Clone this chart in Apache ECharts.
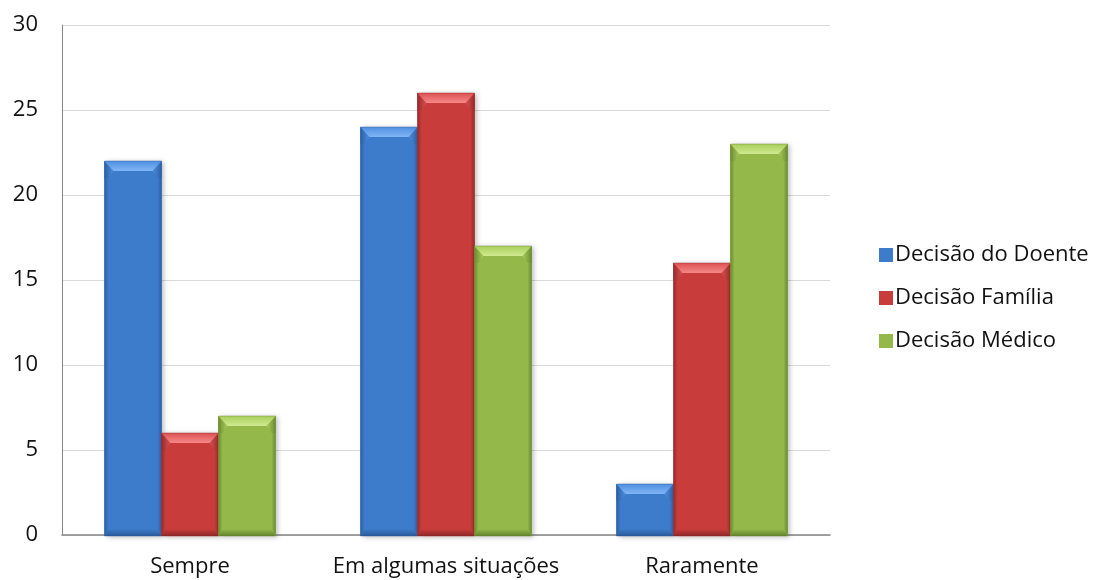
<!DOCTYPE html>
<html>
<head>
<meta charset="utf-8">
<script src="https://cdn.jsdelivr.net/npm/echarts@6/dist/echarts.min.js"></script>
<style>
  html, body { margin: 0; padding: 0; background: #fff; }
  #chart { width: 1101px; height: 580px; }
</style>
</head>
<body>
<div id="chart"></div>
<script>
// Categories and values per decision maker
const categories = ['Sempre', 'Em algumas situações', 'Raramente'];
const seriesNames = ['Decisão do Doente', 'Decisão Família', 'Decisão Médico'];
const doente = [22, 24, 3];
const familia = [6, 26, 16];
const medico = [7, 17, 23];
const yTicks = { min: 0, max: 30, interval: 5 };

// Tones used for the bevelled bars of each series
const palette = [
  { light: '#80b6f7', top: '#4f8fe0', base: '#3d7bcb', edge: '#2b5fa3', bottom: '#2a5a98' },
  { light: '#f68888', top: '#dc5252', base: '#c93c3c', edge: '#962a2a', bottom: '#8c2727' },
  { light: '#d0ea90', top: '#aacd5d', base: '#94b94a', edge: '#6b8b30', bottom: '#63812c' }
];

const values = [doente, familia, medico];
const font = "'Open Sans', 'Liberation Sans', sans-serif";
const BAR_W = 57;

function lin(x, y, x2, y2, c0, c1) {
  return { type: 'linear', x: x, y: y, x2: x2, y2: y2,
    colorStops: [{ offset: 0, color: c0 }, { offset: 1, color: c1 }] };
}

// Draws one bevelled bar from the category/value coordinates of the axes
function bevelBar(params, api) {
  const si = params.seriesIndex;
  const p = palette[si];
  const ci = api.value(0);
  const v = api.value(1);
  const base = api.coord([ci, 0]);
  const top = api.coord([ci, v]);
  const n = values.length;
  const x = base[0] - BAR_W * n / 2 + si * BAR_W;
  const y = top[1];
  const w = BAR_W;
  const h = base[1] - top[1] + 1;
  const bt = Math.min(10, h / 2);
  const bb = Math.min(7, h / 2);
  const bs = 9;
  const ss = 4;

  return {
    type: 'group',
    children: [
      { type: 'rect', shape: { x: x, y: y, width: w, height: h },
        style: { fill: p.base, shadowBlur: 5, shadowOffsetX: 2, shadowOffsetY: 1,
                 shadowColor: 'rgba(0,0,0,0.28)' } },
      { type: 'polygon',
        shape: { points: [[x, y], [x + ss, y + bt], [x + ss, y + h - bb], [x, y + h]] },
        style: { fill: lin(0, 0, 1, 0, p.edge, p.base) } },
      { type: 'polygon',
        shape: { points: [[x + w, y], [x + w - ss, y + bt], [x + w - ss, y + h - bb], [x + w, y + h]] },
        style: { fill: lin(1, 0, 0, 0, p.edge, p.base) } },
      { type: 'polygon',
        shape: { points: [[x, y + h], [x + ss, y + h - bb], [x + w - ss, y + h - bb], [x + w, y + h]] },
        style: { fill: lin(0, 1, 0, 0, p.bottom, p.base) } },
      { type: 'polygon',
        shape: { points: [[x, y], [x + bs, y + bt], [x + ss, y + bt + 7], [x, y + bt + 7]] },
        style: { fill: lin(0, 0, 1, 0, p.edge, p.top), opacity: 0.9 } },
      { type: 'polygon',
        shape: { points: [[x + w, y], [x + w - bs, y + bt], [x + w - ss, y + bt + 7], [x + w, y + bt + 7]] },
        style: { fill: lin(1, 0, 0, 0, p.edge, p.top), opacity: 0.9 } },
      { type: 'polygon',
        shape: { points: [[x, y], [x + w, y], [x + w - bs, y + bt], [x + bs, y + bt]] },
        style: { fill: lin(0, 0, 0, 1, p.top, p.light) } },
      { type: 'rect', shape: { x: x, y: y, width: w, height: h },
        style: { fill: 'none', stroke: p.edge, lineWidth: 0.6, opacity: 0.7 } }
    ]
  };
}

const chart = echarts.init(document.getElementById('chart'));
chart.setOption({
  animation: false,
  backgroundColor: '#ffffff',
  grid: { left: 62, right: 271, top: 25, bottom: 45, containLabel: false },
  legend: {
    orient: 'vertical',
    left: 874,
    top: 239,
    itemWidth: 14,
    itemHeight: 14,
    itemGap: 21,
    icon: 'rect',
    textStyle: { fontFamily: font, fontSize: 22, lineHeight: 22, color: '#111', padding: [0, 0, 0, -3] },
    data: seriesNames
  },
  xAxis: {
    type: 'category',
    data: categories,
    axisLine: { lineStyle: { color: '#868686', width: 1.5 } },
    axisTick: { show: false },
    axisLabel: { fontFamily: font, fontSize: 22, color: '#111', margin: 21, interval: 0, hideOverlap: false }
  },
  yAxis: {
    type: 'value',
    min: yTicks.min, max: yTicks.max, interval: yTicks.interval,
    axisLine: { show: true, lineStyle: { color: '#868686', width: 1 } },
    axisTick: { show: false },
    axisLabel: { fontFamily: font, fontSize: 22, color: '#111', margin: 24 },
    splitLine: { lineStyle: { color: '#d9d9d9', width: 1.2 } }
  },
  series: seriesNames.map((name, i) => ({
    name: name,
    type: 'custom',
    renderItem: bevelBar,
    encode: { x: 0, y: 1 },
    itemStyle: { color: palette[i].base },
    data: values[i].map((v, j) => [j, v]),
    z: 3
  }))
});
</script>
</body>
</html>
